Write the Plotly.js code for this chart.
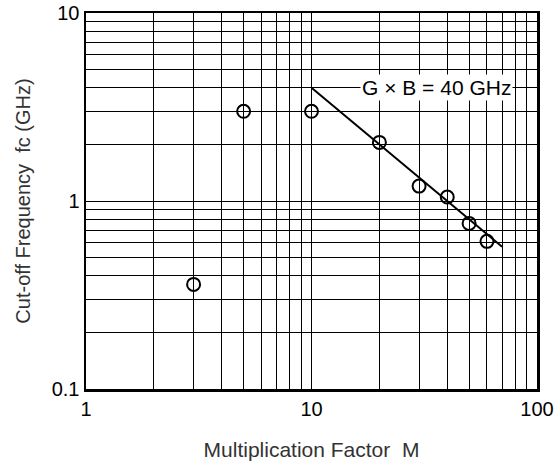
<!DOCTYPE html>
<html><head><meta charset="utf-8">
<script src="https://cdn.plot.ly/plotly-3.0.1.min.js"></script>
<style>html,body{margin:0;padding:0;background:#fff}</style>
</head><body>
<div id="chart" style="width:557px;height:469px"></div>
<script>
const multFactor = [3, 5, 10, 20, 30, 40, 50, 60];
const cutoffGHz = [0.36, 3.0, 3.0, 2.05, 1.2, 1.05, 0.76, 0.61];
const gbM = [10, 70];
const gbProduct = 40;
const gbF = gbM.map(m => gbProduct / m);
const gbLabel = 'G \u00d7 B = 40 GHz';
const xTickVals = [1, 10, 100];
const xTickText = ['1', '10', '100'];
const yTickVals = [0.1, 1, 10];
const yTickText = ['0.1', '1', '10'];

const font = 'Liberation Sans, Arial, sans-serif';
const traces = [
  {x: gbM, y: gbF, mode: 'lines', line: {color: '#000', width: 2}, hoverinfo: 'skip'},
  {x: multFactor, y: cutoffGHz, mode: 'markers',
   marker: {symbol: 'circle-open', size: 13, color: '#000', line: {width: 2, color: '#000'}}}
];
const axisCommon = {
  type: 'log', showline: true, linewidth: 2.5, linecolor: '#000', mirror: true,
  showgrid: true, gridcolor: '#000', gridwidth: 1, zeroline: false,
  ticks: '', tickfont: {family: font, size: 20, color: '#000'},
  minor: {dtick: 'D1', showgrid: true, gridcolor: '#000', gridwidth: 1, ticks: ''}
};
const layout = {
  width: 557, height: 469, showlegend: false,
  paper_bgcolor: '#fff', plot_bgcolor: '#fff',
  margin: {l: 86, r: 20, t: 13, b: 80},
  font: {family: font},
  xaxis: Object.assign({}, axisCommon, {
    range: [0, 2], tickvals: xTickVals, ticktext: xTickText,
    title: {text: 'Multiplication Factor  M', font: {family: font, size: 21, color: '#333'}, standoff: 24}
  }),
  yaxis: Object.assign({}, axisCommon, {
    range: [-1, 1], tickvals: yTickVals, ticktext: yTickText,
    title: {text: 'Cut-off Frequency  fc (GHz)', font: {family: font, size: 20, color: '#333'}, standoff: 16}
  }),
  annotations: [{
    x: Math.log10(36), y: Math.log10(4), xref: 'x', yref: 'y',
    text: gbLabel, showarrow: false, bgcolor: '#fff',
    font: {family: font, size: 21, color: '#000'}, borderpad: 1
  }]
};
Plotly.newPlot('chart', traces, layout, {displayModeBar: false, staticPlot: true});
</script>
</body></html>
